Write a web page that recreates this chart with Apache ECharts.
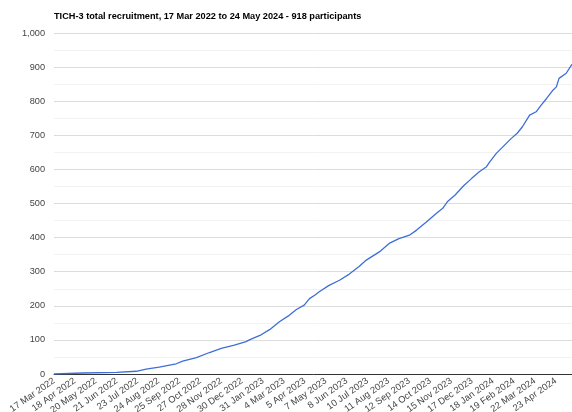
<!DOCTYPE html>
<html lang="en">

<head>
    <meta charset="UTF-8">
    <title>TICH-3 total recruitment</title>
    <style>
        html, body { margin: 0; padding: 0; background: #fff; }
        #main { width: 572px; height: 412px; }
    </style>
</head>

<body>
    <div id="main"></div>
    <script src="https://cdn.jsdelivr.net/npm/echarts@6/dist/echarts.min.js"></script>
    <script>
        // cumulative recruitment
        const dates = [
            '2022-03-17', '2022-04-30', '2022-06-21', '2022-07-21', '2022-08-05', '2022-08-25',
            '2022-09-20', '2022-09-30', '2022-10-21', '2022-11-10', '2022-11-28', '2022-12-18',
            '2023-01-05', '2023-01-10', '2023-01-28', '2023-02-10', '2023-02-25', '2023-03-12',
            '2023-03-23', '2023-04-04', '2023-04-12', '2023-04-20', '2023-04-27', '2023-05-12',
            '2023-05-28', '2023-06-12', '2023-06-27', '2023-07-08', '2023-07-28', '2023-08-12',
            '2023-08-27', '2023-09-12', '2023-09-23', '2023-10-08', '2023-10-23', '2023-11-02',
            '2023-11-09', '2023-11-21', '2023-12-04', '2023-12-16', '2023-12-28', '2024-01-08',
            '2024-01-13', '2024-01-23', '2024-02-02', '2024-02-15', '2024-02-24', '2024-03-03',
            '2024-03-14', '2024-03-24', '2024-04-01', '2024-04-09', '2024-04-19', '2024-04-24',
            '2024-04-28', '2024-05-09', '2024-05-17', '2024-05-24'
        ];
        const totals = [
            0, 3, 5, 8, 14, 20,
            30, 38, 48, 63, 75, 85,
            95, 100, 115, 130, 153, 172,
            189, 202, 221, 231, 241, 260,
            275, 293, 315, 334, 358, 383,
            397, 407, 422, 446, 471, 486,
            505, 525, 552, 573, 593, 608,
            622, 647, 666, 691, 706, 725,
            759, 769, 789, 808, 833, 842,
            867, 882, 906, 918
        ];
        const tickDates = [
            '2022-03-17', '2022-04-18', '2022-05-20', '2022-06-21', '2022-07-23', '2022-08-24',
            '2022-09-25', '2022-10-27', '2022-11-28', '2022-12-30', '2023-01-31', '2023-03-04',
            '2023-04-05', '2023-05-07', '2023-06-08', '2023-07-10', '2023-08-11', '2023-09-12',
            '2023-10-14', '2023-11-15', '2023-12-17', '2024-01-18', '2024-02-19', '2024-03-22',
            '2024-04-23'
        ];
        const monthNames = ['Jan', 'Feb', 'Mar', 'Apr', 'May', 'Jun', 'Jul', 'Aug', 'Sep', 'Oct', 'Nov', 'Dec'];

        function toTime(s) {
            const p = s.split('-').map(Number);
            return new Date(p[0], p[1] - 1, p[2]).getTime();
        }

        const seriesData = dates.map((d, i) => [toTime(d), totals[i]]);
        const font = '"Liberation Sans", Arial, sans-serif';

        var myChart = echarts.init(document.getElementById('main'));
        option = {
            animation: false,
            title: {
                text: 'TICH-3 total recruitment, 17 Mar 2022 to 24 May 2024 - 918 participants',
                left: 49,
                top: 7,
                textStyle: {
                    fontFamily: font,
                    fontSize: 9.2,
                    fontWeight: 'bold',
                    color: '#000'
                }
            },
            grid: {
                left: 54,
                right: -4,
                top: 33,
                bottom: 38,
                containLabel: false,
                outerBoundsMode: 'none'
            },
            xAxis: {
                // dates as plain timestamps so the labels can sit on the listed days
                type: 'value',
                min: toTime(dates[0]),
                max: toTime(dates[dates.length - 1]),
                axisLine: { onZero: false, lineStyle: { color: '#333', width: 1 } },
                axisTick: { show: false },
                splitLine: { show: false },
                axisLabel: {
                    customValues: tickDates.map(toTime),
                    rotate: 35,
                    margin: 6,
                    fontFamily: font,
                    fontSize: 9.4,
                    color: '#444',
                    hideOverlap: false,
                    formatter(v) {
                        const d = new Date(v);
                        return d.getDate() + ' ' + monthNames[d.getMonth()] + ' ' + d.getFullYear();
                    }
                }
            },
            yAxis: {
                type: 'value',
                min: 0,
                max: 1000,
                interval: 100,
                axisLine: { show: false },
                axisTick: { show: false },
                axisLabel: {
                    margin: 9,
                    fontFamily: font,
                    fontSize: 9.2,
                    color: '#444'
                },
                splitLine: { lineStyle: { color: '#dcdcdc', width: 1 } },
                minorTick: { show: false, splitNumber: 2 },
                minorSplitLine: { show: true, lineStyle: { color: '#f2f2f2', width: 1 } }
            },
            series: [{
                type: 'line',
                data: seriesData,
                showSymbol: false,
                symbol: 'none',
                lineStyle: { color: '#3d6fd6', width: 1.3 },
                z: 3
            }]
        };
        myChart.setOption(option);
    </script>

</body>

</html>
